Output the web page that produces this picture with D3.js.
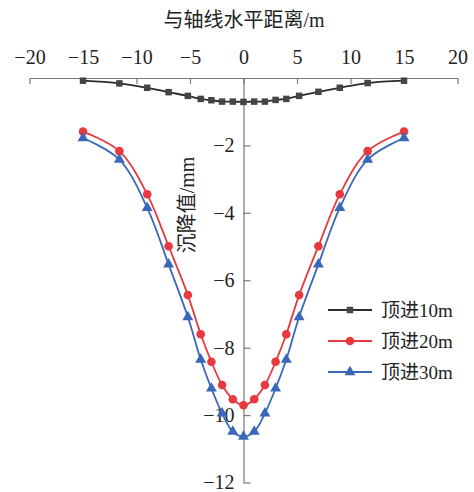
<!DOCTYPE html>
<html>
<head>
<meta charset="utf-8">
<script src="https://cdn.jsdelivr.net/npm/d3@7"></script>
<style>
  body { margin: 0; background: #fff; }
  svg { display: block; }
</style>
</head>
<body>
<div id="chart"></div>
<script>
'use strict';

// distance from axis (m)
const xs = [-15, -11.6, -9, -7, -5.2, -4, -3, -2, -1, 0, 1, 2, 3, 4, 5.2, 7, 9, 11.6, 15];
// settlement (mm)
const push10 = [-0.08, -0.16, -0.29, -0.42, -0.53, -0.62, -0.66, -0.70, -0.70, -0.71, -0.70, -0.70, -0.65, -0.62, -0.53, -0.41, -0.29, -0.15, -0.08];
const push20 = [-1.59, -2.17, -3.45, -4.99, -6.44, -7.60, -8.42, -9.11, -9.53, -9.71, -9.53, -9.11, -8.42, -7.60, -6.44, -4.99, -3.45, -2.17, -1.59];
const push30 = [-1.78, -2.42, -3.85, -5.53, -7.09, -8.35, -9.21, -9.95, -10.49, -10.64, -10.49, -9.95, -9.21, -8.35, -7.09, -5.53, -3.85, -2.42, -1.78];
const seriesNames = ["顶进10m", "顶进20m", "顶进30m"];
const xTicks = [-20, -15, -10, -5, 0, 5, 10, 15, 20];
const yTicks = [-2, -4, -6, -8, -10, -12];

const W = 474, H = 492;
const FONT = "'Liberation Serif', 'Noto Sans CJK SC', serif";
const AXIS_COLOR = "#777";

const series = [
	{ name: seriesNames[0], values: push10, color: "#2b2b2b", mark: "#444", symbol: d3.symbolSquare, size: 42 },
	{ name: seriesNames[1], values: push20, color: "#e8393f", mark: "#e8393f", symbol: d3.symbolCircle, size: 58 },
	{ name: seriesNames[2], values: push30, color: "#3a68b8", mark: "#3a68b8", symbol: d3.symbolTriangle, size: 52 },
];

const x = d3.scaleLinear().domain([-20, 20]).range([29.5, 457.5]);
const y = d3.scaleLinear().domain([0, -12]).range([78, 482.5]);

const svg = d3.select("#chart").append("svg")
	.attr("width", W)
	.attr("height", H)
	.style("font-family", FONT);

// x axis on top, ticks pointing down
const gx = svg.append("g")
	.attr("transform", `translate(0,${y(0)})`)
	.call(d3.axisTop(x).tickValues(xTicks).tickSize(-6).tickPadding(14).tickSizeOuter(0));
gx.select(".domain").attr("stroke", AXIS_COLOR).attr("stroke-width", 1.2);
gx.selectAll(".tick line").attr("stroke", AXIS_COLOR).attr("stroke-width", 1.2);
gx.selectAll(".tick text")
	.attr("fill", "#222")
	.style("font-size", "20px")
	.style("font-family", FONT);

// y axis through x = 0, ticks pointing right
const gy = svg.append("g")
	.attr("transform", `translate(${x(0)},0)`)
	.call(d3.axisLeft(y).tickValues(yTicks).tickSize(-7).tickPadding(9).tickSizeOuter(0));
gy.select(".domain").attr("stroke", AXIS_COLOR).attr("stroke-width", 1.2);
gy.selectAll(".tick line").attr("stroke", AXIS_COLOR).attr("stroke-width", 1.2);
gy.selectAll(".tick text")
	.attr("fill", "#222")
	.style("font-size", "20px")
	.style("font-family", FONT);

// axis titles
svg.append("text")
	.attr("x", 244)
	.attr("y", 27)
	.attr("text-anchor", "middle")
	.attr("fill", "#222")
	.style("font-size", "20px")
	.text("与轴线水平距离/m");

svg.append("text")
	.attr("transform", `translate(194,205) rotate(-90)`)
	.attr("text-anchor", "middle")
	.attr("fill", "#222")
	.style("font-size", "20px")
	.text("沉降值/mm");

const line = d3.line()
	.x((d, i) => x(xs[i]))
	.y(d => y(d))
	.curve(d3.curveCatmullRom.alpha(0.5));

series.forEach(s => {
	const g = svg.append("g");
	g.append("path")
		.attr("d", line(s.values))
		.attr("fill", "none")
		.attr("stroke", s.color)
		.attr("stroke-width", 1.8);
	g.selectAll("path.mark")
		.data(s.values)
		.join("path")
			.attr("class", "mark")
			.attr("d", d3.symbol(s.symbol, s.size))
			.attr("transform", (d, i) => `translate(${x(xs[i])},${y(d)})`)
			.attr("fill", s.mark);
});

// legend
const legend = svg.append("g").attr("transform", "translate(328,310)");
series.forEach((s, i) => {
	const row = legend.append("g").attr("transform", `translate(0,${i * 31})`);
	row.append("line")
		.attr("x1", 0).attr("x2", 44)
		.attr("stroke", s.color)
		.attr("stroke-width", 1.8);
	row.append("path")
		.attr("d", d3.symbol(s.symbol, s.size))
		.attr("transform", "translate(22,0)")
		.attr("fill", s.mark);
	row.append("text")
		.attr("x", 53)
		.attr("dy", "0.35em")
		.attr("fill", "#222")
		.style("font-size", "19px")
		.text(s.name);
});
</script>
</body>
</html>
